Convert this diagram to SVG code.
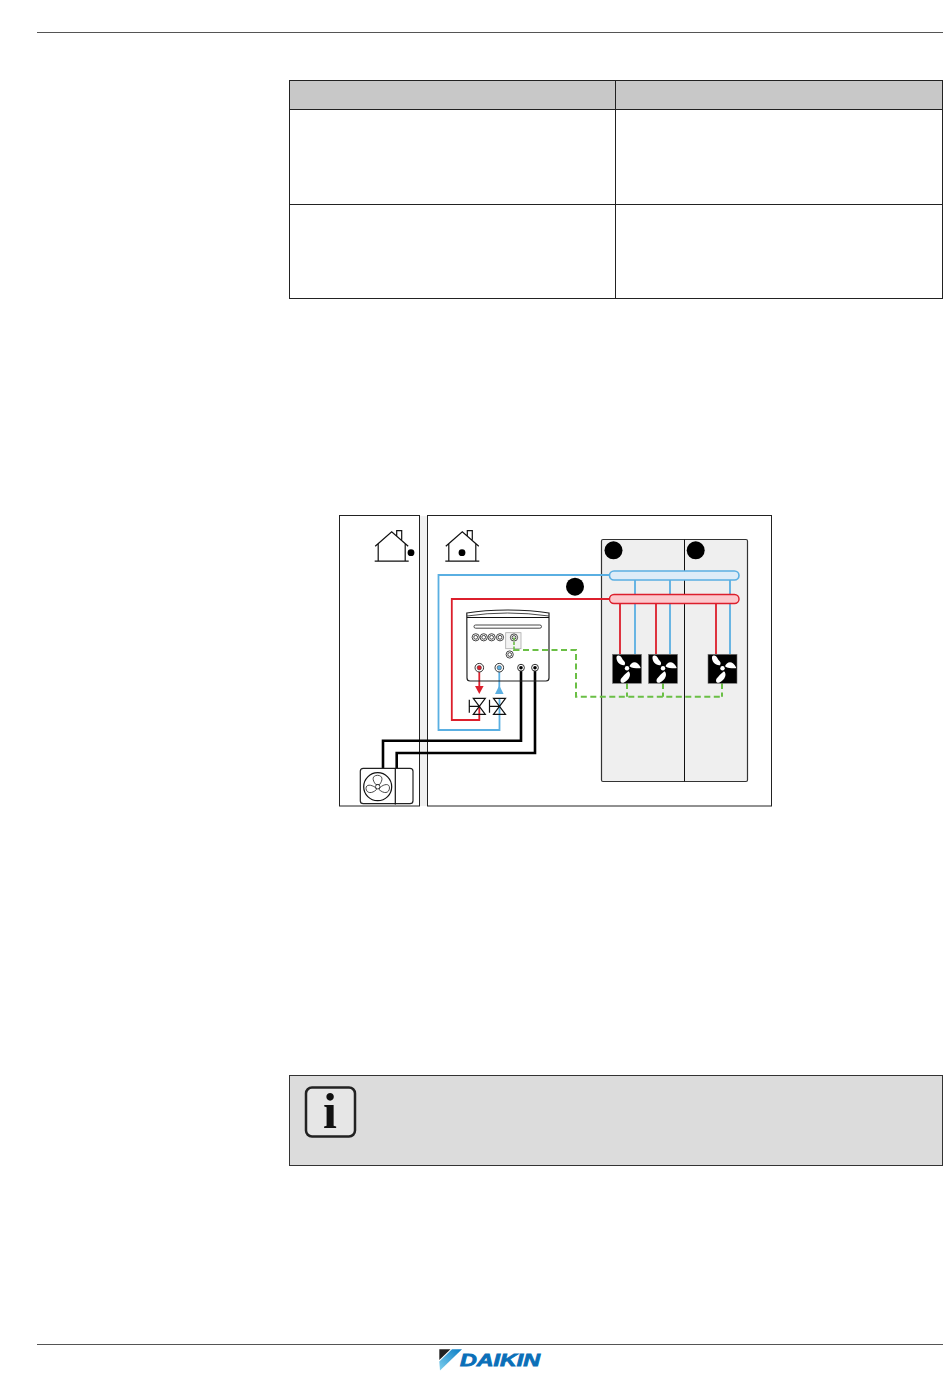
<svg xmlns="http://www.w3.org/2000/svg" width="950" height="1387" viewBox="0 0 950 1387">
<style>
.rule{stroke:#555;stroke-width:1;fill:none}
.frame{fill:#fff;stroke:#222;stroke-width:1}
.ln{fill:none;stroke:#111;stroke-width:1.2}
.thin{fill:none;stroke:#333;stroke-width:.9}
.blue{fill:none;stroke:#5aafe2;stroke-width:1.800}
.red{fill:none;stroke:#dc1f2c;stroke-width:1.800}
.blk{fill:none;stroke:#000;stroke-width:2.600}
.grn{fill:none;stroke:#6abf45;stroke-width:2;stroke-dasharray:6 3.500}
.dot{fill:#000}
</style>
<defs>
<g id="fan"><rect x="-14.500" y="-14.500" width="29" height="29" fill="#000" stroke="#777" stroke-width=".6"/>
<g fill="#fff"><circle cy="-.5" r="2.200"/>
<path d="M-2.500-3.500C-7-3-11-7-10.500-12C-9-14.500-6-13-5-10.500C-4-8-.5-7-2.500-3.500Z"/>
<path d="M2.500-2.500C4-7 10-9 13.500-1.500C14-.5 13-.5 12-.5C8-.5 5-.5 2.500-2.500Z"/>
<path d="M1.500 2.500C4.500 5 3 11-3.500 14C-6.500 14.500-7 12-6 10C-4 7.500-2 5 1.500 2.500Z"/></g></g>
<g id="knob"><circle r="3.600" fill="#fff" stroke="#333" stroke-width=".9"/><circle r="1.900" fill="none" stroke="#333" stroke-width=".9"/></g>
<g id="valve"><path class="ln" d="M-6-8H6L-6 8H6ZM0 0H-10M-10-6.500V6.500" fill="#fff"/></g>
<path id="house" d="M-16.500 14.500L0 0L16.500 14.500M-13.500 12V29M13.500 12V29M-17 29.500H17M5 4V-1H10V8" fill="none" stroke="#111" stroke-width="1.200"/>
<linearGradient id="lg" x1="0" y1="1" x2="1" y2="0"><stop offset="0" stop-color="#7fd0ee"/><stop offset="1" stop-color="#0a7cc4"/></linearGradient>
</defs>
<rect width="950" height="1387" fill="#fff"/>
<g id="page-rules"><path class="rule" d="M37 32.500H943M37 1344.500H943"/></g>
<g id="table">
<rect x="289.500" y="80.500" width="653" height="29" fill="#c8c8c8" stroke="#222"/>
<rect x="289.500" y="109.500" width="653" height="189" fill="#fff" stroke="#222"/>
<path d="M289.500 204.500H942.500M615.500 80.500V298.500" stroke="#222" fill="none"/>
</g>
<g id="outside-zone"><rect class="frame" x="339.500" y="515.500" width="80" height="290.500"/></g>
<rect x="420" y="516" width="7" height="290" fill="#f0f0f0"/>
<g id="inside-zone"><rect class="frame" x="427.500" y="515.500" width="344" height="290.500"/></g>
<g id="house-outside"><use href="#house" x="391.700" y="531.700"/><circle class="dot" cx="411" cy="552.700" r="3.400"/></g>
<g id="house-inside"><use href="#house" x="462.300" y="531.700"/><circle class="dot" cx="462" cy="552.700" r="3.400"/></g>
<g id="zones"><rect x="601.500" y="539.500" width="146" height="242" rx="1.500" fill="#efefef" stroke="#333" stroke-width="1.200"/><path d="M684.500 539.500V781.500" stroke="#111" fill="none"/></g>
<g id="connectors">
<path class="blue" d="M609 575H438.500V730H499.500V698"/>
<path class="red" d="M609 599H451.800V720H479.300V706"/>
<path class="red" d="M479.300 668V688"/>
<path class="blue" d="M499.300 668V690"/>
<path class="red" d="M620 603V654M656 603V654M716 603V654"/>
<path class="blue" d="M635 580V654M670 580V654M730 580V654"/>
<path class="blk" d="M521 668V740.700H383V768"/>
<path class="blk" d="M535 668V753H396.700V768"/>
<path class="grn" d="M514 640V650H576V696.700H722"/>
<path class="grn" d="M627 683V696.700M663 683V696.700M722 683V696.700"/>
</g>
<g id="header-blue"><rect x="609.500" y="571" width="129.500" height="9" rx="4.500" fill="#dcecf8" stroke="#5aafe2" stroke-width="1.600"/></g>
<g id="header-red"><rect x="609.500" y="594.500" width="129.500" height="9" rx="4.500" fill="#fcc9cd" stroke="#dc1f2c" stroke-width="1.400"/></g>
<g id="marker-a"><circle class="dot" cx="613.500" cy="550.300" r="9"/></g>
<g id="marker-b"><circle class="dot" cx="695.700" cy="550.300" r="9"/></g>
<g id="marker-c"><circle class="dot" cx="575" cy="586.700" r="9"/></g>
<g id="fan-1"><use href="#fan" x="627" y="668.800"/></g>
<g id="fan-2"><use href="#fan" x="663" y="668.800"/></g>
<g id="fan-3"><use href="#fan" x="722.500" y="668.800"/></g>
<g id="indoor-unit">
<path d="M466.800 613C490 609 525 609 549 613V678Q549 681 546 681H470Q467 681 467 678Z" fill="none" stroke="#222" stroke-width="1.200"/>
<path d="M467 617.500H549" class="ln"/><path d="M467 616Q507 610 549 616" class="thin"/>
<rect x="474" y="625" width="67.500" height="3.200" rx="1.600" fill="#fff" stroke="#333" stroke-width=".9"/>
<use href="#knob" x="475.700" y="637.300"/><use href="#knob" x="483.700" y="637.300"/><use href="#knob" x="491.600" y="637.300"/><use href="#knob" x="500" y="637.300"/>
<rect x="505.700" y="632.700" width="15.300" height="16" fill="#f4f4f4" stroke="#aaa" stroke-width=".8"/>
<use href="#knob" x="514" y="637.500"/><use href="#knob" x="509.700" y="654.500"/>
<path d="M514 637.500V650" fill="none" stroke="#6abf45" stroke-width="1.600" stroke-dasharray="3 1.500"/>
<circle cx="479.300" cy="667.700" r="4.300" fill="#fff" stroke="#333"/><circle cx="479.300" cy="667.700" r="2.200" fill="#dc1f2c" stroke="#333" stroke-width=".5"/>
<circle cx="499.300" cy="667.700" r="4.300" fill="#fff" stroke="#333"/><circle cx="499.300" cy="667.700" r="2.200" fill="#5aafe2" stroke="#333" stroke-width=".5"/>
<circle cx="521" cy="667.700" r="3.400" fill="#fff" stroke="#333"/><circle cx="521" cy="667.700" r="1.800" fill="#000"/>
<circle cx="535" cy="667.700" r="3.400" fill="#fff" stroke="#333"/><circle cx="535" cy="667.700" r="1.800" fill="#000"/>
</g>
<g id="arrow-red"><path d="M475 686H483.600L479.300 694Z" fill="#dc1f2c"/></g>
<g id="arrow-blue"><path d="M495 694H503.600L499.300 685.500Z" fill="#5aafe2"/></g>
<g id="valve-1"><use href="#valve" x="479.300" y="706.300"/></g>
<g id="valve-2"><use href="#valve" x="499.500" y="706.300"/></g>
<g id="outdoor-unit">
<rect x="360.300" y="768.300" width="52.700" height="35.400" rx="3" fill="#fff" stroke="#222" stroke-width="1.200"/>
<path d="M395.300 768.300V804.500" class="ln"/>
<circle cx="377.700" cy="786.700" r="14" class="ln"/>
<circle cx="377.700" cy="786.700" r="2.200" class="thin"/>
<path class="thin" d="M375.800 784.500C372 780 372 775.500 377.500 775.300C383 775.500 383 780 379.600 784.500Z"/>
<path class="thin" d="M380 787.500C384 784 389.500 783 389.500 788C389 793.500 384 794 379 789.500Z"/>
<path class="thin" d="M375.500 787.500C371 784.500 366 784 366 788.500C366.500 793.500 372 794 376.500 789.500Z"/>
</g>
<g id="note">
<rect x="289.500" y="1075.500" width="653" height="90" fill="#dcdcdc" stroke="#333" stroke-width="1"/>
<rect x="306" y="1087.500" width="49" height="49" rx="6" fill="#e6e6e6" stroke="#222" stroke-width="2.500"/>
<text x="330" y="1128" font-family="Liberation Serif, serif" font-weight="700" font-size="50" text-anchor="middle" fill="#111">i</text>
</g>
<g id="logo">
<polygon points="439.300,1349.300 450.500,1349.300 439.300,1360" fill="#222"/>
<polygon points="452,1349.300 462,1349.300 440,1370.500 439.300,1361.500" fill="url(#lg)"/>
<text x="460" y="1365.500" font-family="Liberation Sans, sans-serif" font-weight="700" font-style="italic" font-size="17" fill="#0a6fb8" stroke="#0a6fb8" stroke-width=".8" textLength="80" lengthAdjust="spacingAndGlyphs">DAIKIN</text>
</g>
</svg>
